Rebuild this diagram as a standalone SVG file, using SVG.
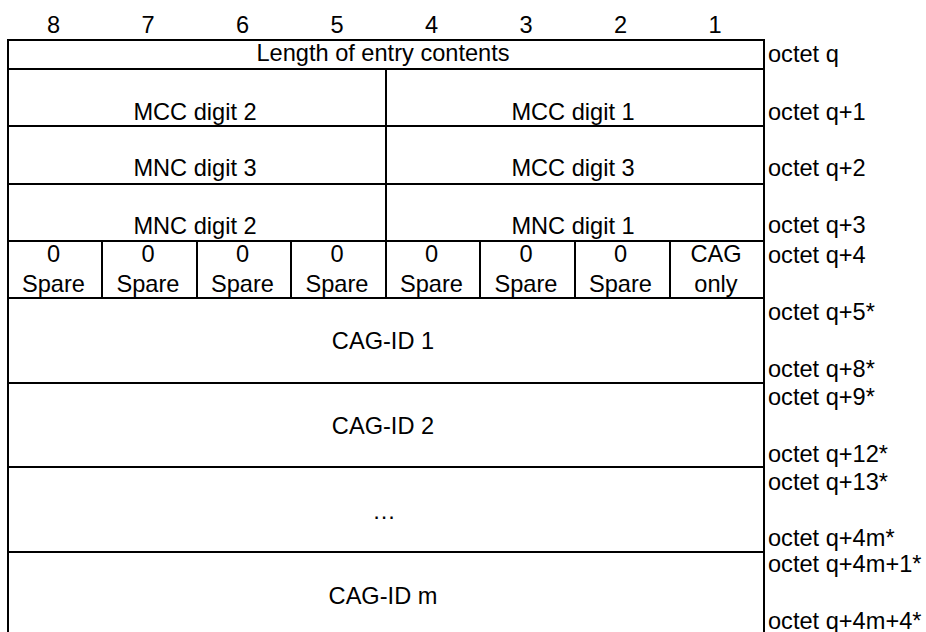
<svg xmlns="http://www.w3.org/2000/svg" width="926" height="632" viewBox="0 0 926 632">
<style>
text{font-family:"Liberation Sans",Arial,sans-serif;font-size:23.6px;fill:#000}
.c{text-anchor:middle}
.l{stroke:#000;stroke-width:2;fill:none}
</style>
<rect x="0" y="0" width="926" height="632" fill="#fff"/>
<g id="bit-header">
<text class="c" x="53.5" y="33">8</text>
<text class="c" x="148" y="33">7</text>
<text class="c" x="242.5" y="33">6</text>
<text class="c" x="337" y="33">5</text>
<text class="c" x="431.5" y="33">4</text>
<text class="c" x="526" y="33">3</text>
<text class="c" x="620.5" y="33">2</text>
<text class="c" x="715" y="33">1</text>
</g>
<g id="grid">
<path class="l" d="M8 39V640M764 39V640M7 40H765M7 69H765M7 126H765M7 184H765M7 241H765M7 298H765M7 383H765M7 467H765M7 552H765"/>
<path class="l" d="M386 69V298M102 241V298M197 241V298M291 241V298M480 241V298M575 241V298M670 241V298"/>
</g>
<g id="row-length"><text class="c" x="383" y="61">Length of entry contents</text></g>
<g id="row-mcc12">
<text class="c" x="195" y="119.5">MCC digit 2</text>
<text class="c" x="573" y="119.5">MCC digit 1</text>
</g>
<g id="row-mnc3-mcc3">
<text class="c" x="195" y="176">MNC digit 3</text>
<text class="c" x="573" y="176">MCC digit 3</text>
</g>
<g id="row-mnc21">
<text class="c" x="195" y="233.5">MNC digit 2</text>
<text class="c" x="573" y="233.5">MNC digit 1</text>
</g>
<g id="row-spare">
<text class="c" x="53.5" y="262">0</text><text class="c" x="53.5" y="292">Spare</text>
<text class="c" x="148" y="262">0</text><text class="c" x="148" y="292">Spare</text>
<text class="c" x="242.5" y="262">0</text><text class="c" x="242.5" y="292">Spare</text>
<text class="c" x="337" y="262">0</text><text class="c" x="337" y="292">Spare</text>
<text class="c" x="431.5" y="262">0</text><text class="c" x="431.5" y="292">Spare</text>
<text class="c" x="526" y="262">0</text><text class="c" x="526" y="292">Spare</text>
<text class="c" x="620.5" y="262">0</text><text class="c" x="620.5" y="292">Spare</text>
<text class="c" x="716" y="262">CAG</text><text class="c" x="716" y="292">only</text>
</g>
<g id="row-cag1"><text class="c" x="383" y="349">CAG-ID 1</text></g>
<g id="row-cag2"><text class="c" x="383" y="434">CAG-ID 2</text></g>
<g id="row-dots"><text class="c" x="384" y="519">…</text></g>
<g id="row-cagm"><text class="c" x="383" y="604">CAG-ID m</text></g>
<g id="octets">
<text x="768" y="62">octet q</text>
<text x="768" y="119.5">octet q+1</text>
<text x="768" y="176">octet q+2</text>
<text x="768" y="233">octet q+3</text>
<text x="768" y="263">octet q+4</text>
<text x="768" y="320">octet q+5*</text>
<text x="768" y="377">octet q+8*</text>
<text x="768" y="405">octet q+9*</text>
<text x="768" y="462">octet q+12*</text>
<text x="768" y="490">octet q+13*</text>
<text x="768" y="545.5">octet q+4m*</text>
<text x="768" y="571.5">octet q+4m+1*</text>
<text x="768" y="629">octet q+4m+4*</text>
</g>
</svg>
